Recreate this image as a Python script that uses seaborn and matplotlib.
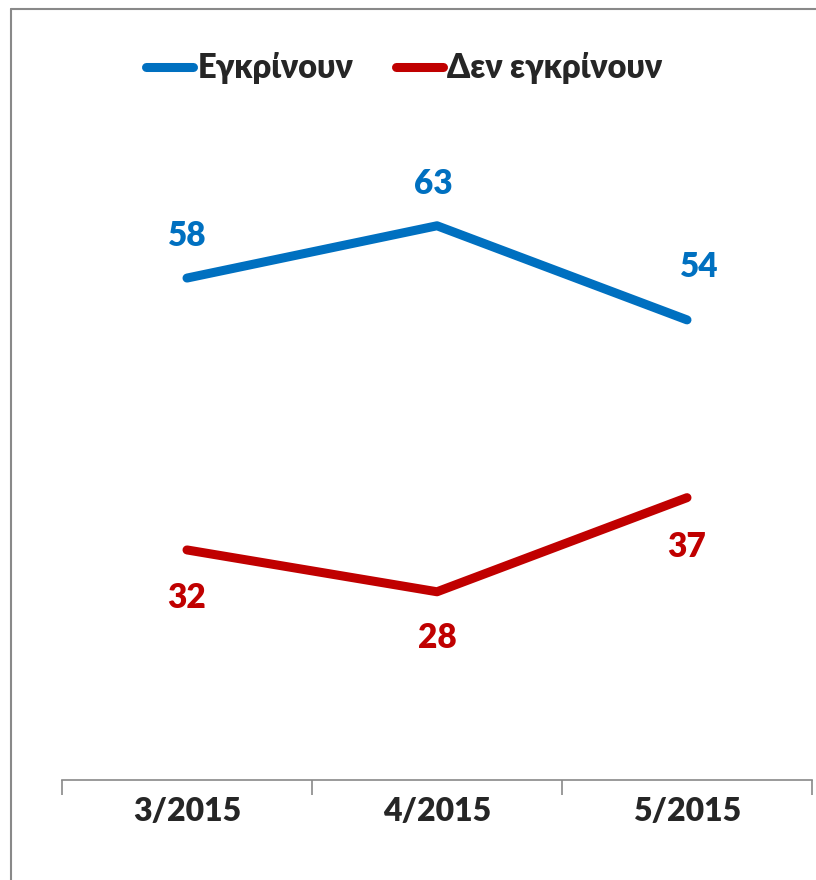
import matplotlib
matplotlib.use("Agg")
import matplotlib.pyplot as plt
import seaborn as sns
import pandas as pd
from matplotlib.lines import Line2D
from matplotlib.ticker import FixedLocator

categories = ["3/2015", "4/2015", "5/2015"]
approve = [58, 63, 54]
disapprove = [32, 28, 37]
series_names = ["Εγκρίνουν", "Δεν εγκρίνουν"]

sns.set_style("white")
plt.rcParams['font.family'] = ['Lato', 'Noto Sans', 'DejaVu Sans']
W = 800

df = pd.DataFrame({
    "value": approve + disapprove,
    "series": [series_names[0]] * len(approve) + [series_names[1]] * len(disapprove),
    "x": list(range(len(categories))) * 2,
})

colors = {series_names[0]: "#0070C0", series_names[1]: "#C00000"}

fig = plt.figure(figsize=(8.16, 8.8), dpi=100)
ax = fig.add_axes([62 / 816, 100 / 880, 750 / 816, 732 / 880])

sns.lineplot(data=df, x="x", y="value", hue="series", palette=colors,
             linewidth=6.5, ax=ax, solid_capstyle="round", legend=True)

ax.set_xlim(-0.5, 2.5)
ax.set_ylim(10, 80)
ax.set_xticks([0, 1, 2])
ax.set_xticklabels(categories, fontsize=23, fontweight=W)
ax.set_yticks([])
ax.set_xlabel("")
ax.set_ylabel("")
for s in ["top", "right", "left"]:
    ax.spines[s].set_visible(False)
ax.spines["bottom"].set_color("#898989")
ax.spines["bottom"].set_linewidth(1.2)
ax.tick_params(axis="x", which="major", length=0, pad=12, bottom=False)
ax.xaxis.set_minor_locator(FixedLocator([-0.5, 0.5, 1.5, 2.5]))
ax.tick_params(axis="x", which="minor", bottom=True, length=11, width=1.2,
               color="#898989", direction="out")

blue_off = [(0, 42), (-4, 42), (12, 53)]
red_off = [(0, -48), (0, -46), (0, -49)]
for i, v in enumerate(approve):
    ax.annotate(str(v), (i, v), xytext=blue_off[i], textcoords="offset pixels",
                ha="center", va="center", fontsize=24, fontweight=W, color="#0070C0")
for i, v in enumerate(disapprove):
    ax.annotate(str(v), (i, v), xytext=red_off[i], textcoords="offset pixels",
                ha="center", va="center", fontsize=24, fontweight=W, color="#C00000")

handles, labels = ax.get_legend_handles_labels()
leg = ax.legend(handles, labels, loc="center", bbox_to_anchor=(404 / 816, 1 - 68 / 880),
                bbox_transform=fig.transFigure, ncol=2, frameon=False,
                fontsize=23.5, handlelength=1.45, handletextpad=0.12, columnspacing=1.3)
for t in leg.get_texts():
    t.set_fontweight(W)
for l in leg.get_lines():
    l.set_linewidth(6.5)
    l.set_solid_capstyle("round")

# outer chart border (top and left visible)
fig.add_artist(Line2D([11 / 816, 1.05], [1 - 9 / 880, 1 - 9 / 880], transform=fig.transFigure,
                      color="#898989", linewidth=1.5))
fig.add_artist(Line2D([11 / 816, 11 / 816], [-0.05, 1 - 9 / 880], transform=fig.transFigure,
                      color="#898989", linewidth=1.5))

fig.savefig("out.png", dpi=100)
